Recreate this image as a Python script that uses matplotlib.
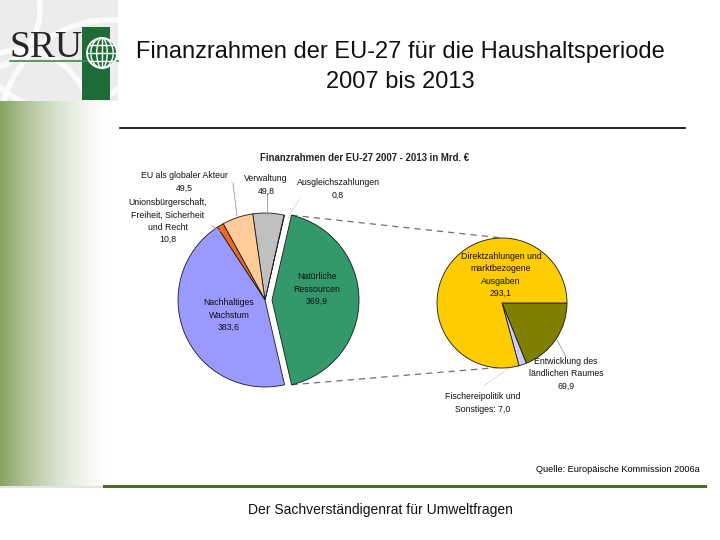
import numpy as np
import matplotlib
matplotlib.use("Agg")
import matplotlib.pyplot as plt
from matplotlib.patches import Rectangle, Circle, Ellipse, Arc

plt.rcParams['font.family'] = ['Liberation Sans', 'DejaVu Sans']

# ---------------- data ----------------
main_labels = ["Natürliche\nRessourcen", "Ausgleichszahlungen", "Verwaltung",
               "EU als globaler Akteur", "Unionsbürgerschaft,\nFreiheit, Sicherheit\nund Recht",
               "Nachhaltiges\nWachstum"]
main_values = [369.9, 0.8, 49.8, 49.5, 10.8, 383.6]
main_colors = ["#33996b", "#ffffff", "#c0c0c0", "#ffcc99", "#ee6a1c", "#9999ff"]

sub_labels = ["Entwicklung des\nländlichen Raumes", "Fischereipolitik und\nSonstiges:",
              "Direktzahlungen und\nmarktbezogene\nAusgaben"]
sub_values = [69.9, 7.0, 293.1]
sub_colors = ["#808000", "#ccccff", "#ffcc00"]

title = "Finanzrahmen der EU-27 für die Haushaltsperiode\n2007 bis 2013"
chart_title = "Finanzrahmen der EU-27 2007 - 2013 in Mrd. €"
source = "Quelle: Europäische Kommission 2006a"
footer = "Der Sachverständigenrat für Umweltfragen"

def fmt(v):
    return f"{v:.1f}".replace(".", ",")

W, H = 720, 540
def P(y):
    return H - y

fig = plt.figure(figsize=(7.2, 5.4), dpi=100)
ax = fig.add_axes([0, 0, 1, 1])

# ---------------- decorations ----------------
# left gradient band
t = np.linspace(0, 1, 256)
green = np.array([0.52, 0.64, 0.38])
white = np.array([1.0, 1.0, 1.0])
w = (1 - t) ** 1.6
grad = white[None, :] * (1 - w[:, None]) + green[None, :] * w[:, None]
ax.imshow(grad[None, :, :], extent=[0, 112, P(486), P(101)], aspect='auto', zorder=0)

# logo background
logo_bg = Rectangle((0, P(101)), 118, 101, facecolor="#ececec", edgecolor="none", zorder=0)
ax.add_patch(logo_bg)
for (cx, cy, r) in [(60, 20, 90), (20, 120, 70), (110, 130, 110), (-20, 10, 60)]:
    arc = Arc((cx, P(cy)), 2 * r, 2 * r, color="white", lw=4, alpha=0.8, zorder=0.5)
    ax.add_patch(arc)
    arc.set_clip_path(logo_bg)
ax.text(9, P(57), "SRU", family=["Liberation Serif", "DejaVu Serif"], fontsize=27,
        color="#262626", ha="left", va="baseline", zorder=2)
ax.plot([10, 118], [P(61), P(61)], color="#3d8c4f", lw=1.2, zorder=2)
ax.add_patch(Rectangle((82, P(100)), 28, 73, facecolor="#1f6b38", edgecolor="none", zorder=1))
gc = (102, P(53))
gr = 15
ax.add_patch(Circle(gc, gr, facecolor="#1f6b38", edgecolor="white", lw=1.3, zorder=3))
for f in [0.35, 0.75]:
    ax.add_patch(Ellipse(gc, 2 * gr * f, 2 * gr, facecolor="none", edgecolor="white", lw=1.0, zorder=3))
ax.plot([gc[0], gc[0]], [gc[1] - gr, gc[1] + gr], color="white", lw=1.0, zorder=3)
for lat in [-0.55, 0, 0.55]:
    hw = gr * np.sqrt(1 - lat ** 2)
    ax.plot([gc[0] - hw, gc[0] + hw], [gc[1] + lat * gr, gc[1] + lat * gr], color="white", lw=1.0, zorder=3)

# title
ax.text(400, P(67), title, ha="center", va="center", fontsize=17, linespacing=1.42, color="#111111")
ax.plot([120, 685], [P(128), P(128)], color="black", lw=1.2)

# footer
ax.plot([0, 104], [P(487), P(487)], color="#e4e4e4", lw=1.5)
ax.plot([104, 705], [P(486), P(486)], color="#4b6b28", lw=2.2)
ax.text(380, P(510), footer, ha="center", va="center", fontsize=10, color="#111111")
ax.text(700, P(470), source, ha="right", va="center", fontsize=6.6, color="black")

# ---------------- chart ----------------
ax.text(365, P(158), chart_title, ha="center", va="center", fontsize=6.9,
        fontweight="bold", color="#222222")

wp = dict(edgecolor="#1a1a1a", linewidth=0.6)
explode = [7, 0, 0, 0, 0, 0]
mc = (265, P(300))
mr = 87
main_w, _ = ax.pie(main_values, colors=main_colors, startangle=-77, counterclock=True,
                   center=mc, radius=mr, explode=explode, wedgeprops=wp, frame=True)

sc = (502, P(303))
sr = 65
sub_w, _ = ax.pie(sub_values, colors=sub_colors, startangle=0, counterclock=False,
                  center=sc, radius=sr, wedgeprops=wp, frame=True)

# connector lines (from exploded wedge edges to secondary pie)
g = main_w[0]
gx, gy = g.center
a1, a2 = np.deg2rad(g.theta1), np.deg2rad(g.theta2)
top_main = (gx + mr * np.cos(a2), gy + mr * np.sin(a2))
bot_main = (gx + mr * np.cos(a1), gy + mr * np.sin(a1))
top_sub = (sc[0], sc[1] + sr)
fb = np.deg2rad(sub_w[1].theta1)
bot_sub = (sc[0] + sr * np.cos(fb), sc[1] + sr * np.sin(fb))
for p0, p1 in [(top_main, top_sub), (bot_main, bot_sub)]:
    ax.plot([p0[0], p1[0]], [p0[1], p1[1]], color="#707070", lw=0.9,
            dashes=(5, 4), zorder=0.8)

lab_kw = dict(ha="center", va="center", fontsize=6.3, linespacing=1.45, color="#111111")

# main pie labels
ax.text(317, P(289), f"{main_labels[0]}\n{fmt(main_values[0])}", **lab_kw, zorder=5)
ax.text(338, P(189), f"{main_labels[1]}\n{fmt(main_values[1])}", **lab_kw)
ax.text(266, P(185), f"{main_labels[2]}\n{fmt(main_values[2])}", **lab_kw)
ax.text(184, P(182), f"{main_labels[3]}\n{fmt(main_values[3])}", **lab_kw)
ax.text(168, P(221), f"{main_labels[4]}\n{fmt(main_values[4])}", **lab_kw)
ax.text(229, P(315), f"{main_labels[5]}\n{fmt(main_values[5])}", **lab_kw, zorder=5)

# sub pie labels
ax.text(566, P(374), f"{sub_labels[0]}\n{fmt(sub_values[0])}", **lab_kw)
ax.text(483, P(403), f"{sub_labels[1]} {fmt(sub_values[1])}", **lab_kw)
ax.text(501, P(275), f"{sub_labels[2]}\n{fmt(sub_values[2])}", **lab_kw, zorder=5)

# leader lines
lc = "#9a9a9a"
ax.plot([233, 237], [P(183), P(216)], color=lc, lw=0.6)
ax.plot([267, 267], [P(194), P(216)], color=lc, lw=0.6)
ax.plot([300, 288], [P(198), P(218)], color=lc, lw=0.6, ls=":")
ax.plot([212, 222], [P(226), P(232)], color=lc, lw=0.6)
ax.plot([557, 566], [P(340), P(357)], color=lc, lw=0.6)
ax.plot([485, 518], [P(385), P(362)], color=lc, lw=0.6, ls=":")

ax.set_xlim(0, W)
ax.set_ylim(0, H)
ax.set_aspect("auto")
ax.axis("off")

fig.savefig("out.png", dpi=100)
